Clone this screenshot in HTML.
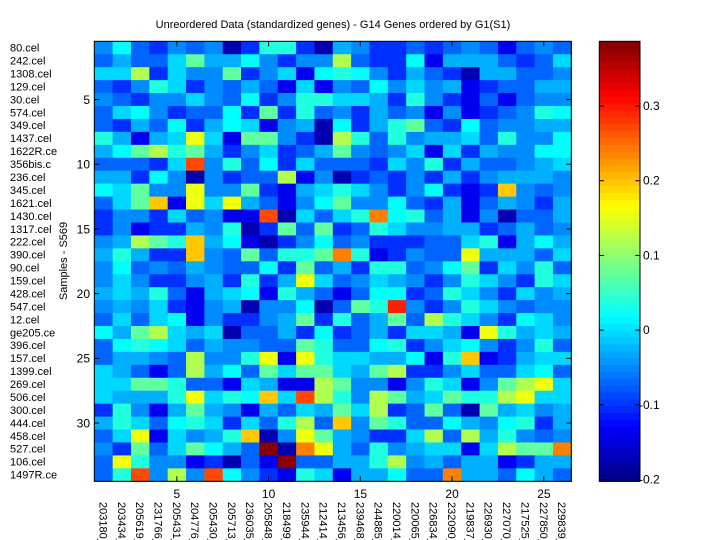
<!DOCTYPE html>
<html><head><meta charset="utf-8"><style>
body{margin:0;background:#fff;}
svg{display:block;font-family:"Liberation Sans",sans-serif;}
</style></head><body>
<svg id="s" width="720" height="540" xmlns="http://www.w3.org/2000/svg">
<rect width="720" height="540" fill="#fff"/>
<g id="cells"></g>
<g id="cb"></g>
<rect x="94.3" y="41.3" width="477" height="440" fill="none" stroke="#000" stroke-width="1"/>
<rect x="599.3" y="41.3" width="40.7" height="440" fill="none" stroke="#000" stroke-width="1"/>
<g id="ticks" stroke="#000" stroke-width="1"></g>
<text x="333" y="28" font-size="11" text-anchor="middle">Unreordered Data (standardized genes) - G14 Genes ordered by G1(S1)</text>
<g font-size="11" text-anchor="start">
<text x="10" y="51.6">80.cel</text><text x="10" y="64.5">242.cel</text><text x="10" y="77.5">1308.cel</text><text x="10" y="90.4">129.cel</text><text x="10" y="103.4">30.cel</text><text x="10" y="116.3">574.cel</text><text x="10" y="129.2">349.cel</text><text x="10" y="142.2">1437.cel</text><text x="10" y="155.1">1622R.ce</text><text x="10" y="168.1">356bis.c</text><text x="10" y="181">236.cel</text><text x="10" y="193.9">345.cel</text><text x="10" y="206.9">1621.cel</text><text x="10" y="219.8">1430.cel</text><text x="10" y="232.8">1317.cel</text><text x="10" y="245.7">222.cel</text><text x="10" y="258.6">390.cel</text><text x="10" y="271.6">90.cel</text><text x="10" y="284.5">159.cel</text><text x="10" y="297.5">428.cel</text><text x="10" y="310.4">547.cel</text><text x="10" y="323.3">12.cel</text><text x="10" y="336.3">ge205.ce</text><text x="10" y="349.2">396.cel</text><text x="10" y="362.2">157.cel</text><text x="10" y="375.1">1399.cel</text><text x="10" y="388">269.cel</text><text x="10" y="401">506.cel</text><text x="10" y="413.9">300.cel</text><text x="10" y="426.9">444.cel</text><text x="10" y="439.8">458.cel</text><text x="10" y="452.7">527.cel</text><text x="10" y="465.7">106.cel</text><text x="10" y="478.6">1497R.ce</text>
</g>
<g font-size="12" text-anchor="end">
<text x="90" y="104">5</text><text x="90" y="168.6">10</text><text x="90" y="233.3">15</text><text x="90" y="298">20</text><text x="90" y="362.7">25</text><text x="90" y="427.4">30</text>
</g>
<g font-size="12" text-anchor="middle">
<text x="176.9" y="498">5</text><text x="268.6" y="498">10</text><text x="360.4" y="498">15</text><text x="452.1" y="498">20</text><text x="543.9" y="498">25</text>
</g>
<text transform="translate(67,261) rotate(-90)" font-size="11" text-anchor="middle">Samples - S569</text>
<g font-size="12">
<text x="643" y="110">0.3</text><text x="643" y="184.7">0.2</text><text x="643" y="259.4">0.1</text><text x="643" y="334.1">0</text><text x="639" y="408.8">-0.1</text><text x="639" y="483.5">-0.2</text>
</g>
<g id="xl" font-size="11"></g>
</svg>
<script>
var names=["203180_","203434_","205619_","231766_","205431_","204776_","205430_","205713_","236035_","205848_","218499_","235944_","212414_","213456_","239468_","244885_","220014_","220065_","226834_","232090_","219837_","226930_","227070_","217525_","227850_","229839_"];
var rows=[
"lCmblmlNbttbNslbbmbmlmBmlm",
"msmmcgssClbllGmbbCBsssmbmc",
"ccGbcllgblcBCtClbsmbNssmml",
"mbltcblmsmBcBlmClclsBbmmss",
"lmbllclmCblttccsbtlbBmBmll",
"mcClbmmCbgbtmlbsmlBlBbmltC",
"mbsmCbsCcBlsNCbstgmbCmllss",
"tsBscycBgglbNGtmtlsscmtllC",
"sCgGtgsblcbmsglmlcBcbsllCC",
"mmmbcrltmCbcmmmbcltbsmmlsc",
"ssbClNlbmmGBlNbmblbsblsssl",
"CcgllyllgbBsctclblCbBbYlml",
"mcgYBycysmBlCgllCmbsBmslbs",
"bllbcmlBBrNcmctoCtmsBlNmms",
"blBbbsltNbgmgbmtcllssbmsml",
"lsGgtYsCBNblCmlbbbmmctBsCs",
"stsbbYlmgmttgotBblmmysssmc",
"lCmlmslmmCbgmsbttmlCgbcltm",
"lclbblsbtbsycmlcslbltclbtc",
"scstmBscCBtsmBmCCbmtclbcls",
"lslcbBlsNllCNmgtRlbltclmll",
"mcmcCBlbblsgbtmsgmGtclbCcl",
"CsgGcscNmmsbCbmsbccsBytscs",
"mCtCcmsllmmgtmmCtblcClbltm",
"msslmGlltyBytccssCBtYBbscc",
"csmBmGsCmgcggcsgGbblcmmcCm",
"ccggtmmBcsBBGgllBltcBlgGyc",
"cssstyctCYcrGtlGgscgttGycc",
"btlBsgslBsmcsgcGbmgmNgscls",
"stcmCtcbcmtGmYlgtmmCslCtbs",
"mcyBclstYNlygslbbcGmGstlml",
"lbgmcgCsmDNoysmtlsccBcGggo",
"mytllBbNmBDmmsstGlsmssBbss",
"mtrlGlrClbBtcBssCmmossmCsm"];
var col={N:"#0000b0",B:"#0000f0",b:"#0030ff",m:"#0064ff",l:"#008cff",s:"#00b0ff",c:"#00d8ff",C:"#00ffff",t:"#20ffe0",g:"#60ffa0",G:"#b0ff50",y:"#eeff10",Y:"#ffc800",o:"#ff8000",r:"#ff4800",R:"#ff2000",D:"#880000"};
var ns="http://www.w3.org/2000/svg";
function el(t,a,p){var e=document.createElementNS(ns,t);for(var k in a)e.setAttribute(k,a[k]);p.appendChild(e);return e;}
var g=document.getElementById("cells");
var x0=94.3,y0=41.3,cw=477/26,rh=440/34;
for(var r=0;r<34;r++){var s=rows[r];for(var c=0;c<26;c++){var ch=s[c]||"l";
el("rect",{x:(x0+c*cw).toFixed(2),y:(y0+r*rh).toFixed(2),width:(cw+0.6).toFixed(2),height:(rh+0.6).toFixed(2),fill:col[ch]||"#008cff"},g);}}
function jet(v){function f(x){return Math.max(0,Math.min(1,x));}
var r=f(1.5-Math.abs(4*v-3)),gg=f(1.5-Math.abs(4*v-2)),b=f(1.5-Math.abs(4*v-1));
return "rgb("+Math.round(r*255)+","+Math.round(gg*255)+","+Math.round(b*255)+")";}
var cb=document.getElementById("cb");var h=440/64;
for(var i=0;i<64;i++){el("rect",{x:599.3,y:(y0+440-(i+1)*h).toFixed(2),width:40.7,height:(h+0.5).toFixed(2),fill:jet((i+0.5)/64)},cb);}
var tk=document.getElementById("ticks");
for(var k=5;k<=30;k+=5){var y=y0+(k-0.5)*rh;el("line",{x1:x0,x2:x0+5,y1:y,y2:y},tk);el("line",{x1:x0+477,x2:x0+472,y1:y,y2:y},tk);}
for(var k=5;k<=25;k+=5){var x=x0+(k-0.5)*cw;el("line",{x1:x,x2:x,y1:y0,y2:y0+5},tk);el("line",{x1:x,x2:x,y1:y0+440,y2:y0+435},tk);}
for(var v=-0.2;v<=0.31;v+=0.1){var y=106+(0.3-v)*747;el("line",{x1:599.3,x2:604,y1:y,y2:y},tk);el("line",{x1:640,x2:635.3,y1:y,y2:y},tk);}
var xl=document.getElementById("xl");
for(var c=0;c<26;c++){var x=x0+(c+0.5)*cw;var t=el("text",{transform:"translate("+(x-4).toFixed(1)+",502) rotate(90)"},xl);t.textContent=names[c];}
</script>
</body></html>
